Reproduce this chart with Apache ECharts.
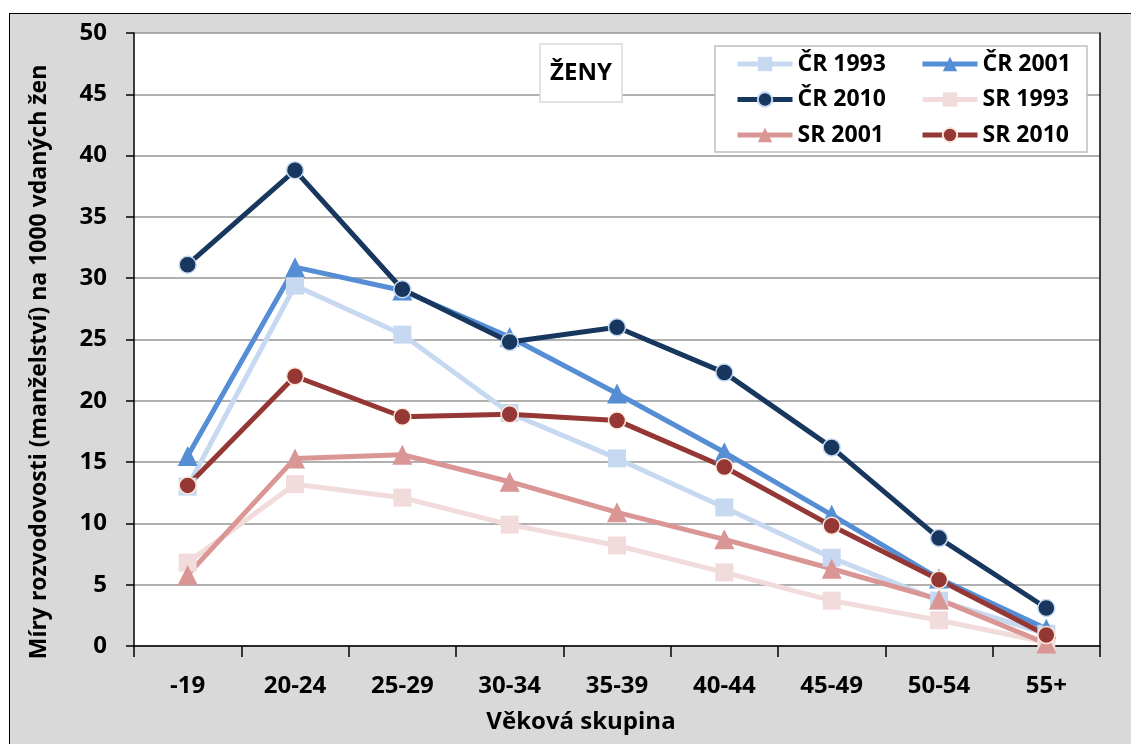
<!DOCTYPE html>
<html>
<head>
<meta charset="utf-8">
<script src="https://cdn.jsdelivr.net/npm/echarts@6/dist/echarts.min.js"></script>
<style>
html,body{margin:0;padding:0;background:#fff;overflow:hidden;width:1131px;height:744px;}
#bg{position:absolute;left:9px;top:13px;width:1122px;height:731px;background:#d9d9d9;border-left:1.5px solid #000;border-top:1.5px solid #000;box-sizing:border-box;}
#chart{position:absolute;left:0;top:0;width:1131px;height:744px;}
</style>
</head>
<body>
<div id="bg"></div>
<div id="chart"></div>
<script>
const categories = ['-19','20-24','25-29','30-34','35-39','40-44','45-49','50-54','55+'];
const cr1993 = [13.0, 29.4, 25.4, 19.0, 15.3, 11.3, 7.2, 3.7, 1.0];
const cr2001 = [15.5, 30.9, 29.0, 25.2, 20.6, 15.8, 10.7, 5.5, 1.4];
const cr2010 = [31.1, 38.8, 29.1, 24.8, 26.0, 22.3, 16.2, 8.8, 3.1];
const sr1993 = [6.8, 13.2, 12.1, 9.9, 8.2, 6.0, 3.7, 2.1, 0.3];
const sr2001 = [5.8, 15.3, 15.6, 13.4, 10.9, 8.7, 6.3, 3.8, 0.2];
const sr2010 = [13.1, 22.0, 18.7, 18.9, 18.4, 14.6, 9.8, 5.4, 0.9];
const yTicks = [0,5,10,15,20,25,30,35,40,45,50];
const xTitle = 'Věková skupina';
const yTitle = 'Míry rozvodovosti (manželství) na 1000 vdaných žen';
const boxTitle = 'ŽENY';

const FONT = 'Open Sans';
function mk(name, data, color, symbol, size, border) {
  return {
    name, type: 'line', data,
    symbol, symbolSize: size,
    lineStyle: {color, width: 5},
    itemStyle: {color, borderColor: border || color, borderWidth: border ? 1.5 : 0},
    emphasis: {disabled: true},
    animation: false
  };
}
const legendText = {fontFamily: FONT, fontWeight: 'bold', fontSize: 23, color: '#000', lineHeight: 24};
const chart = echarts.init(document.getElementById('chart'), null, {renderer: 'canvas'});
chart.setOption({
  backgroundColor: 'transparent',
  animation: false,
  textStyle: {fontFamily: FONT},
  grid: {left: 134, right: 31, top: 33, bottom: 98, show: true, backgroundColor: '#fff', borderWidth: 0},
  graphic: [
    {type: 'rect', shape: {x: 540, y: 44, width: 82, height: 58}, style: {fill: '#fff', stroke: '#d9d9d9', lineWidth: 1.5}, z: 50},
    {type: 'text', x: 581, y: 73, style: {text: boxTitle, font: 'bold 24px "Open Sans"', fill: '#000', align: 'center', verticalAlign: 'middle'}, z: 51},
    {type: 'rect', shape: {x: 715, y: 46, width: 372, height: 106}, style: {fill: '#fff', stroke: '#bfbfbf', lineWidth: 1.5}, z: 50},
    {type: 'text', x: 581, y: 722, style: {text: xTitle, font: 'bold 24px "Open Sans"', fill: '#000', align: 'center', verticalAlign: 'middle'}, z: 51},
    {type: 'text', x: 39, y: 362, rotation: Math.PI / 2, style: {text: yTitle, font: 'bold 23px "Open Sans"', fill: '#000', align: 'center', verticalAlign: 'middle'}, z: 51}
  ],
  legend: [
    {data: ['ČR 1993','ČR 2010','SR 2001'], orient: 'vertical', left: 730, top: 47, itemWidth: 55, itemHeight: 18, itemGap: 11.5, z: 60,
     lineStyle: {width: 5}, textStyle: legendText},
    {data: ['ČR 2001','SR 1993','SR 2010'], orient: 'vertical', left: 915, top: 47, itemWidth: 55, itemHeight: 18, itemGap: 11.5, z: 60,
     lineStyle: {width: 5}, textStyle: legendText}
  ],
  xAxis: {
    type: 'category', data: categories, boundaryGap: true,
    axisLine: {lineStyle: {color: '#000', width: 1.5}},
    axisTick: {show: true, length: 11, interval: 0, lineStyle: {color: '#000', width: 1.5}},
    axisLabel: {margin: 28, fontFamily: FONT, fontWeight: 'bold', fontSize: 24, color: '#000', interval: 0},
    splitLine: {show: false}
  },
  yAxis: [{
    type: 'value', min: 0, max: 50, interval: 5,
    axisLine: {show: true, lineStyle: {color: '#000', width: 1.5}},
    axisTick: {show: true, length: 8, lineStyle: {color: '#000', width: 1.5}},
    axisLabel: {margin: 27, fontFamily: FONT, fontWeight: 'bold', fontSize: 24, color: '#000',
      formatter: v => yTicks.includes(v) ? String(v) : ''},
    splitLine: {show: true, lineStyle: {color: '#969696', width: 1.5}}
  }, {
    type: 'value', min: 0, max: 50, interval: 5, position: 'right',
    axisLine: {show: true, lineStyle: {color: '#000', width: 1.5}},
    axisTick: {show: false}, axisLabel: {show: false}, splitLine: {show: false}
  }],
  series: [
    mk('ČR 1993', cr1993, '#c6d9f1', 'rect', 18),
    mk('ČR 2001', cr2001, '#558ed5', 'triangle', 20),
    mk('ČR 2010', cr2010, '#17375e', 'circle', 17, '#c6d9f1'),
    mk('SR 1993', sr1993, '#f2dcdb', 'rect', 18),
    mk('SR 2001', sr2001, '#d99694', 'triangle', 20),
    mk('SR 2010', sr2010, '#953735', 'circle', 17, '#fde9d9')
  ]
});
</script>
</body>
</html>
